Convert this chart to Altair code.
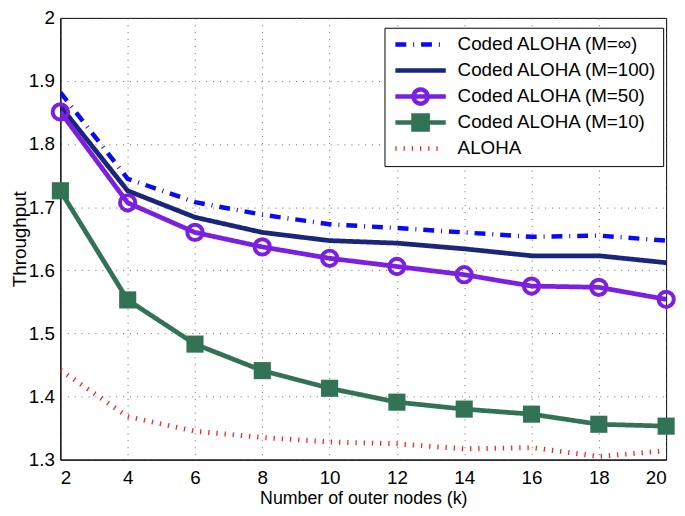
import math
import altair as alt
import pandas as pd

# ---- data ----
k = [2, 4, 6, 8, 10, 12, 14, 16, 18, 20]
m_inf = [1.882, 1.745, 1.708, 1.688, 1.673, 1.667, 1.660, 1.653, 1.655, 1.647]
m_100 = [1.860, 1.726, 1.684, 1.660, 1.647, 1.643, 1.634, 1.623, 1.623, 1.612]
m_50 = [1.851, 1.707, 1.660, 1.637, 1.619, 1.606, 1.593, 1.575, 1.573, 1.554]
m_10 = [1.726, 1.553, 1.483, 1.441, 1.413, 1.391, 1.380, 1.372, 1.356, 1.353]
aloha = [1.442, 1.368, 1.345, 1.335, 1.328, 1.325, 1.317, 1.319, 1.305, 1.314]

names = ["Coded ALOHA (M=\u221e)", "Coded ALOHA (M=100)", "Coded ALOHA (M=50)",
         "Coded ALOHA (M=10)", "ALOHA"]
series_vals = [m_inf, m_100, m_50, m_10, aloha]

x_ticks = [2, 4, 6, 8, 10, 12, 14, 16, 18, 20]
y_ticks = [1.3, 1.4, 1.5, 1.6, 1.7, 1.8, 1.9, 2.0]

# ---- styles ----
colors = ["#0a0af5", "#19267c", "#7b1fe0", "#327356", "#ff1f1f"]
dashes = [[11, 7, 1, 7], [1, 0], [1, 0], [1, 0], [1.3, 7]]
widths = [4.5, 4.8, 4.8, 4.8, 5]
FONT = "Liberation Sans"
FS = 19

frames = [pd.DataFrame({"k": k, "v": vals, "series": n}) for n, vals in zip(names, series_vals)]
long_df = pd.concat(frames, ignore_index=True)

X = alt.X("k:Q", scale=alt.Scale(domain=[2, 20], nice=False),
          axis=alt.Axis(values=x_ticks, title="Number of outer nodes (k)"))
Y = alt.Y("v:Q", scale=alt.Scale(domain=[1.3, 2.0], nice=False, zero=False),
          axis=alt.Axis(values=y_ticks, format=".1~f", title="Throughput"))

layers = []
for df, c, d, w in zip(frames, colors, dashes, widths):
    layers.append(
        alt.Chart(df).mark_line(color=c, strokeDash=d, strokeWidth=w, strokeCap="butt", clip=True)
        .encode(x=X, y=Y)
    )

# markers
layers.append(
    alt.Chart(frames[2]).mark_point(shape="circle", size=240, color=colors[2], strokeWidth=4,
                                    filled=False, opacity=1, clip=False)
    .encode(x=X, y=Y)
)
layers.append(
    alt.Chart(frames[3]).mark_point(shape="square", size=300, color=colors[3], filled=True,
                                    opacity=1, clip=False)
    .encode(x=X, y=Y)
)

# legend symbols: custom paths (line + marker)
S = 5.0  # sqrt(symbolSize)/2
half = 25.5 / S
line_p = f"M{-half:.3f},0H{half:.3f}"
short_p = f"M{-half:.3f},0H{23 / S:.3f}"
r = 7.2 / S
pts = [(r * math.cos(2 * math.pi * i / 20), r * math.sin(2 * math.pi * i / 20)) for i in range(20)]
circ_p = "M" + "L".join(f"{px:.3f},{py:.3f}" for px, py in pts) + "Z"
q = 7.2 / S
sq_p = f"M{-q:.3f},{-q:.3f}H{q:.3f}V{q:.3f}H{-q:.3f}Z"
shapes = [line_p, line_p, line_p + circ_p, line_p + sq_p, short_p]
fills = ["transparent", "transparent", "transparent", colors[3], "transparent"]

leg = alt.Legend(title=None, orient="none", legendX=328, legendY=10,
                 labelFont=FONT, labelFontSize=FS, labelColor="black", labelLimit=0,
                 symbolSize=100, symbolStrokeWidth=4.5, symbolOpacity=1,
                 symbolOffset=22, labelOffset=28, rowPadding=2.3, padding=5,
                 clipHeight=24,
                 strokeColor="black", fillColor="white", cornerRadius=0)

legend_layer = alt.Chart(long_df).mark_point(opacity=0, strokeWidth=4.5, filled=False).encode(
    x=X, y=Y,
    shape=alt.Shape("series:N", scale=alt.Scale(domain=names, range=shapes), legend=leg),
    stroke=alt.Stroke("series:N", scale=alt.Scale(domain=names, range=colors), legend=leg),
    fill=alt.Fill("series:N", scale=alt.Scale(domain=names, range=fills), legend=leg),
    strokeDash=alt.StrokeDash("series:N", scale=alt.Scale(domain=names, range=dashes), legend=leg),
)
layers.append(legend_layer)

chart = alt.layer(*layers).properties(
    width=613, height=447,
    autosize=alt.AutoSizeParams(type="none"),
    padding={"left": 53, "top": 7, "right": 11, "bottom": 46},
).configure_view(
    stroke="black", strokeWidth=1
).configure_axis(
    labelFont=FONT, labelFontSize=FS, labelColor="black",
    titleFont=FONT, titleFontSize=FS, titleFontWeight="normal", titleColor="black",
    domainColor="black", domainWidth=1, ticks=False,
    grid=True, gridColor="#555555", gridDash=[1, 6], gridWidth=1, gridOpacity=0.9,
).configure_axisX(
    labelPadding=9, titlePadding=2, titleFontSize=18,
).configure_axisY(
    labelPadding=6, titlePadding=-1,
)

chart.save("out.html", embed_options={"renderer": "svg", "actions": False})
